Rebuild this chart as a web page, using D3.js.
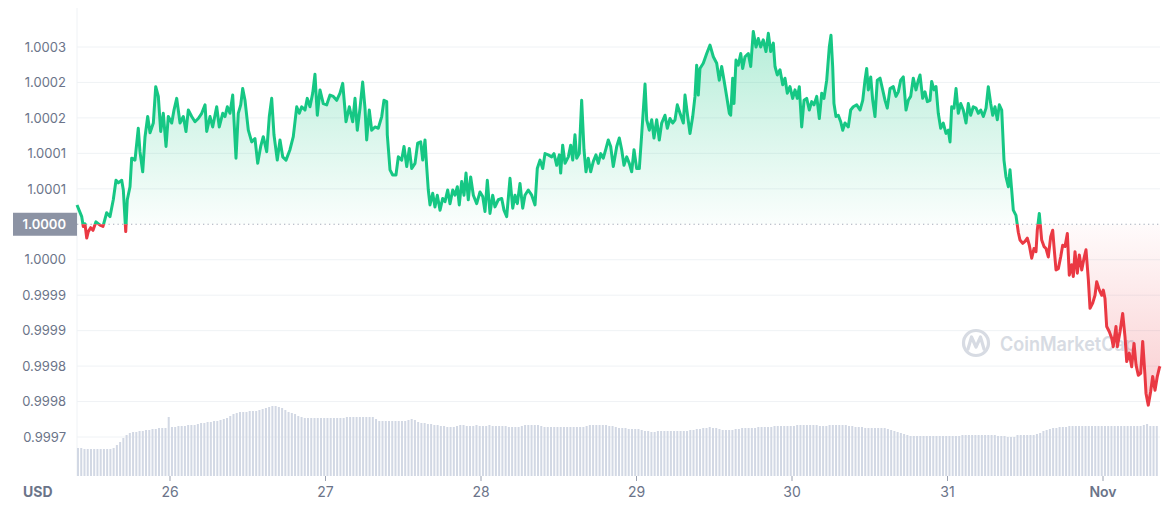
<!DOCTYPE html>
<html><head><meta charset="utf-8">
<script src="https://cdn.jsdelivr.net/npm/d3@7"></script>
<style>
body{margin:0;background:#fff;}
svg{display:block;font-family:Inter,"Noto Sans",sans-serif;}
</style>
</head><body>
<svg id="c" width="1174" height="507"></svg>
<script>
// ---------------- DATA ----------------
const startTime = Date.UTC(2022, 9, 25, 9, 43, 26); // first sample (UTC)
// hours since first sample
const priceHours = [
0.00,0.73,0.97,1.23,1.50,1.74,2.11,2.47,2.93,3.55,
4.01,4.58,5.09,5.60,6.02,6.37,6.90,7.15,7.52,7.76,
8.18,8.44,8.95,9.46,9.72,10.14,10.50,10.91,11.27,11.78,
12.15,12.55,12.92,13.32,13.74,14.09,14.62,14.97,15.39,15.90,
16.41,16.82,17.18,17.70,18.21,18.72,19.25,19.76,20.02,20.53,
20.94,21.56,21.96,22.49,22.84,23.20,23.61,24.03,24.54,24.89,
25.27,25.57,25.93,26.44,26.96,27.47,27.89,28.35,28.75,29.28,
29.68,30.05,30.40,30.91,31.33,31.75,32.26,32.87,33.38,33.91,
34.31,34.68,35.19,35.54,35.96,36.38,36.73,37.09,37.50,38.01,
38.54,39.05,39.56,40.08,40.59,41.01,41.52,42.03,42.55,42.91,
43.26,43.68,44.09,44.45,44.71,45.11,45.48,45.99,46.50,47.03,
47.38,47.80,47.89,48.31,48.72,49.23,49.59,50.11,50.47,50.89,
51.29,51.66,52.17,52.58,53.05,53.36,53.71,53.97,54.22,54.48,
54.90,55.25,55.61,56.03,56.44,56.80,57.21,57.57,57.99,58.34,
58.70,59.00,59.37,59.73,60.04,60.39,60.76,61.17,61.69,62.20,
62.62,62.97,63.33,63.74,64.16,64.51,65.02,65.55,65.90,66.32,
66.83,67.25,67.60,67.96,68.37,68.79,69.14,69.65,70.18,70.69,
71.04,71.46,71.88,72.23,72.74,73.26,73.62,74.04,74.44,74.65,
74.96,75.32,75.83,76.20,76.51,76.86,77.12,77.52,77.89,78.25,
78.56,78.91,79.28,79.69,80.10,80.46,80.83,81.23,81.65,82.00,
82.37,82.77,83.30,83.70,84.07,84.42,84.84,85.24,85.61,85.97,
86.38,86.79,87.15,87.67,87.93,88.33,88.70,89.05,89.47,89.87,
90.24,90.75,91.11,91.52,91.94,92.30,92.65,93.07,93.58,93.84,
94.19,94.61,95.03,95.38,95.64,95.89,96.15,96.66,97.19,97.70,
98.21,98.73,99.13,99.50,99.86,100.27,100.68,100.89,101.20,101.40,
101.71,102.06,102.44,102.74,103.10,103.61,103.98,104.38,104.80,105.15,
105.52,105.92,106.34,106.70,107.06,107.47,107.73,108.08,108.50,108.92,
109.27,109.63,110.04,110.46,110.82,111.17,111.48,111.85,112.21,112.62,
113.02,113.39,113.75,114.17,114.57,114.94,115.29,115.71,116.11,116.37,
116.63,116.83,117.14,117.50,117.87,118.18,118.53,119.04,119.41,119.81,
120.34,120.85,121.27,121.62,121.88,122.13,122.50,122.81,123.16,123.52,
123.94,124.35,124.71,125.06,125.48,125.99,126.40,126.76,127.13,127.53,
127.95,128.30,128.67,129.07,129.49,129.85,130.11,130.52,130.88,131.24,
131.65,131.91,132.27,132.58,132.93,133.30,133.70,134.12,134.48,134.74,
135.00,135.36,135.67,136.02,136.39,136.79,137.21,137.56,137.93,138.33,
138.75,139.11,139.48,139.88,140.30,140.65,141.02,141.33,141.68,142.04,
142.35,142.72,143.07,143.38,143.74,144.00,144.26,144.51,144.92,145.28,
145.54,145.96,146.31,146.67,146.98,147.35,147.70,148.01,148.21,148.52,
148.89,149.25,149.56,149.91,150.28,150.59,150.79,151.10,151.46,151.82,
152.13,152.49,152.85,153.15,153.52,153.77,154.03,154.39,154.70,155.07,
155.42,155.73,156.09,156.35,156.76,157.12,157.38,157.79,158.16,158.40,
158.66,158.92,159.33,159.70,159.94,160.36,160.56,160.98,161.39,161.75,
162.01,162.41,162.78,163.14,163.45,163.80,164.17,164.48,164.83,164.99,
165.34,165.71,166.02,166.38,166.73,167.04,167.15
];
// price in USD
const priceValues = [
1.000057,1.000039,1.000024,1.000028,1.000006,1.000016,1.000022,1.000018,1.000031,1.000026,
1.000024,1.000045,1.000039,1.000065,1.000095,1.000091,1.000095,1.000080,1.000016,1.000065,
1.000085,1.000129,1.000126,1.000175,1.000139,1.000108,1.000162,1.000193,1.000168,1.000183,
1.000239,1.000224,1.000170,1.000198,1.000147,1.000193,1.000183,1.000203,1.000221,1.000183,
1.000193,1.000170,1.000203,1.000193,1.000185,1.000190,1.000198,1.000211,1.000170,1.000193,
1.000177,1.000208,1.000177,1.000198,1.000193,1.000208,1.000198,1.000226,1.000129,1.000198,
1.000211,1.000236,1.000218,1.000172,1.000154,1.000159,1.000121,1.000147,1.000162,1.000139,
1.000193,1.000221,1.000165,1.000126,1.000157,1.000131,1.000126,1.000142,1.000162,1.000208,
1.000198,1.000208,1.000203,1.000221,1.000208,1.000229,1.000258,1.000195,1.000234,1.000213,
1.000211,1.000226,1.000224,1.000218,1.000229,1.000244,1.000185,1.000208,1.000185,1.000221,
1.000172,1.000206,1.000246,1.000206,1.000157,1.000203,1.000172,1.000177,1.000175,1.000193,
1.000218,1.000216,1.000165,1.000111,1.000103,1.000103,1.000131,1.000126,1.000147,1.000116,
1.000144,1.000113,1.000121,1.000152,1.000154,1.000126,1.000157,1.000116,1.000080,1.000057,
1.000075,1.000054,1.000072,1.000049,1.000067,1.000062,1.000080,1.000059,1.000080,1.000072,
1.000085,1.000057,1.000093,1.000072,1.000106,1.000065,1.000100,1.000072,1.000059,1.000077,
1.000070,1.000047,1.000095,1.000044,1.000072,1.000054,1.000065,1.000067,1.000049,1.000039,
1.000098,1.000052,1.000072,1.000059,1.000090,1.000052,1.000072,1.000080,1.000072,1.000057,
1.000113,1.000126,1.000113,1.000136,1.000134,1.000131,1.000136,1.000118,1.000134,1.000106,
1.000149,1.000121,1.000131,1.000149,1.000126,1.000165,1.000129,1.000136,1.000218,1.000142,
1.000108,1.000129,1.000108,1.000124,1.000134,1.000121,1.000136,1.000129,1.000144,1.000157,
1.000147,1.000116,1.000147,1.000160,1.000142,1.000118,1.000131,1.000121,1.000108,1.000142,
1.000113,1.000113,1.000165,1.000243,1.000188,1.000172,1.000188,1.000160,1.000188,1.000157,
1.000183,1.000195,1.000175,1.000190,1.000183,1.000188,1.000211,1.000198,1.000183,1.000226,
1.000198,1.000167,1.000193,1.000224,1.000272,1.000226,1.000267,1.000275,1.000290,1.000303,
1.000285,1.000275,1.000249,1.000270,1.000249,1.000224,1.000198,1.000195,1.000252,1.000213,
1.000280,1.000272,1.000290,1.000267,1.000285,1.000290,1.000270,1.000324,1.000300,1.000313,
1.000300,1.000311,1.000293,1.000321,1.000293,1.000306,1.000270,1.000257,1.000265,1.000242,
1.000252,1.000229,1.000239,1.000221,1.000234,1.000221,1.000239,1.000177,1.000218,1.000221,
1.000203,1.000216,1.000211,1.000224,1.000190,1.000229,1.000221,1.000249,1.000300,1.000318,
1.000270,1.000213,1.000193,1.000195,1.000185,1.000172,1.000183,1.000177,1.000203,1.000208,
1.000211,1.000203,1.000218,1.000249,1.000267,1.000234,1.000254,1.000218,1.000193,1.000249,
1.000252,1.000234,1.000218,1.000206,1.000236,1.000239,1.000224,1.000231,1.000249,1.000254,
1.000203,1.000218,1.000224,1.000252,1.000234,1.000249,1.000257,1.000221,1.000231,1.000216,
1.000218,1.000247,1.000234,1.000239,1.000198,1.000175,1.000183,1.000167,1.000172,1.000154,
1.000208,1.000206,1.000236,1.000198,1.000213,1.000203,1.000183,1.000213,1.000195,1.000208,
1.000206,1.000198,1.000203,1.000193,1.000206,1.000239,1.000213,1.000195,1.000208,1.000188,
1.000211,1.000203,1.000126,1.000100,1.000085,1.000111,1.000080,1.000049,1.000041,1.000015,
1.000003,0.999998,1.000001,1.000006,0.999995,0.999975,0.999990,0.999985,1.000018,1.000044,
1.000003,0.999993,0.999990,0.999977,1.000008,1.000018,0.999993,0.999957,0.999959,0.999977,
0.999995,0.999993,1.000013,0.999949,0.999965,0.999947,0.999985,0.999952,0.999980,0.999957,
0.999975,0.999988,0.999942,0.999898,0.999906,0.999918,0.999939,0.999926,0.999918,0.999926,
0.999913,0.999870,0.999862,0.999852,0.999839,0.999870,0.999839,0.999862,0.999890,0.999854,
0.999816,0.999829,0.999808,0.999844,0.999811,0.999795,0.999798,0.999847,0.999795,0.999767,
0.999749,0.999770,0.999793,0.999772,0.999793,0.999806,0.999809
];
// 30-minute volume bars (relative units)
const volumeIntervalMinutes = 30;
const volumeValues = [
28,28,27,27,27,27,27,27,27,27, 27,28,31,34,38,41,43,44,44,45,
45,46,46,47,47,48,48,48,59,49, 49,50,50,50,51,51,51,52,53,53,
54,54,55,55,56,57,58,60,62,63, 64,64,64,65,65,65,66,67,68,69,
70,70,69,68,66,64,63,62,60,59, 58,58,58,58,58,58,58,58,58,58,
58,58,58,59,59,59,59,59,59,59, 59,59,57,55,55,55,55,55,55,55,
55,55,56,57,56,54,53,53,52,52, 51,51,50,50,49,49,49,50,51,51,
50,50,50,51,50,50,50,51,50,50, 50,50,50,49,49,49,49,50,51,51,
51,51,51,50,49,49,49,49,49,49, 49,49,49,49,49,49,49,50,51,51,
51,51,51,51,50,50,49,48,48,48, 47,47,47,47,46,45,45,44,44,45,
45,45,45,45,45,45,45,45,45,46, 46,47,47,48,48,49,48,48,47,46,
46,46,46,47,47,48,48,48,48,48, 49,49,49,49,49,50,50,50,50,50,
50,50,51,51,51,51,51,51,51,50, 50,50,51,51,51,51,51,51,50,50,
49,49,49,48,48,48,48,48,48,48, 47,46,45,44,43,42,41,40,40,40,
40,40,40,40,40,40,40,40,40,40, 40,40,40,41,41,41,41,41,41,41,
41,41,41,41,40,40,40,39,39,39, 41,41,41,41,41,41,42,43,45,46,
47,48,48,49,49,49,50,50,50,50, 50,50,50,50,50,50,50,50,50,50,
50,50,50,50,50,50,50,50,50,51, 52,50,50,50
];
const baselinePrice = 1.0000273;
const baselineLabel = "1.0000";
const yTickValues = [1.0003, 1.0002455, 1.0001909, 1.0001364, 1.0000818,
                     0.9999727, 0.9999182, 0.9998636, 0.9998091, 0.9997545, 0.9997];
const yTickLabels = ["1.0003","1.0002","1.0002","1.0001","1.0001",
                     "1.0000","0.9999","0.9999","0.9998","0.9998","0.9997"];
const xTickDates = [Date.UTC(2022,9,26),Date.UTC(2022,9,27),Date.UTC(2022,9,28),Date.UTC(2022,9,29),
                    Date.UTC(2022,9,30),Date.UTC(2022,9,31),Date.UTC(2022,10,1)];
const xTickLabels = ["26","27","28","29","30","31","Nov"];
const currencyLabel = "USD";
const watermarkText = "CoinMarketCap";

// ---------------- CHART ----------------
const HOUR = 3600e3;
const GREEN = "#16c784", RED = "#ea3943";
const svg = d3.select("#c");
const L = 77, R = 1160, TOP = 8, VOL_BOTTOM = 476;

const data = priceHours.map((h, i) => ({ t: new Date(startTime + h * HOUR), p: priceValues[i] }));
const x = d3.scaleUtc()
  .domain([new Date(startTime), new Date(startTime + priceHours[priceHours.length - 1] * HOUR)])
  .range([L, R]);
const y = d3.scaleLinear().domain([0.9997, 1.0003]).range([437, 47]);
const v = d3.scaleLinear().domain([0, 100]).range([VOL_BOTTOM, VOL_BOTTOM - 100]);
const yb = y(baselinePrice);

const defs = svg.append("defs");
const gG = defs.append("linearGradient").attr("id","gG").attr("gradientUnits","userSpaceOnUse")
  .attr("x1",0).attr("x2",0).attr("y1",30).attr("y2",yb);
gG.append("stop").attr("offset",0).attr("stop-color",GREEN).attr("stop-opacity",0.32);
gG.append("stop").attr("offset",1).attr("stop-color",GREEN).attr("stop-opacity",0.02);
const gR = defs.append("linearGradient").attr("id","gR").attr("gradientUnits","userSpaceOnUse")
  .attr("x1",0).attr("x2",0).attr("y1",yb).attr("y2",410);
gR.append("stop").attr("offset",0).attr("stop-color",RED).attr("stop-opacity",0.02);
gR.append("stop").attr("offset",1).attr("stop-color",RED).attr("stop-opacity",0.26);
defs.append("clipPath").attr("id","cAbove").append("rect")
  .attr("x",L-5).attr("y",0).attr("width",R-L+10).attr("height",yb);
defs.append("clipPath").attr("id","cBelow").append("rect")
  .attr("x",L-5).attr("y",yb).attr("width",R-L+10).attr("height",507-yb);

// left vertical line
svg.append("line").attr("x1",L).attr("x2",L).attr("y1",TOP).attr("y2",VOL_BOTTOM)
  .attr("stroke","#eff2f5");

// gridlines
svg.append("g").selectAll("line").data(yTickValues).join("line")
  .attr("x1",L).attr("x2",R).attr("y1",d=>y(d)).attr("y2",d=>y(d))
  .attr("stroke","#eff2f5").attr("stroke-width",1);

// volume bars
const volStep = volumeIntervalMinutes * 60e3;
svg.append("g").selectAll("rect").data(volumeValues).join("rect")
  .attr("x", (d,i) => x(new Date(startTime + i*volStep)))
  .attr("width", (d,i) => (x(new Date(startTime + (i+1)*volStep)) - x(new Date(startTime + i*volStep))) * 0.62)
  .attr("y", d => v(d))
  .attr("height", d => VOL_BOTTOM - v(d))
  .attr("fill", "#d2d8e4");

// watermark
const wm = svg.append("g").attr("opacity",0.9);
wm.append("circle").attr("cx",976).attr("cy",343).attr("r",12.5)
  .attr("fill","none").attr("stroke","#d3d8e0").attr("stroke-width",3.2);
wm.append("path").attr("d","M968,349 L971.5,337 L976,347 L980.5,337 L984,349")
  .attr("fill","none").attr("stroke","#d3d8e0").attr("stroke-width",3.2)
  .attr("stroke-linejoin","round").attr("stroke-linecap","round");
wm.append("text").attr("x",1000).attr("y",351).text(watermarkText)
  .attr("font-size",20).attr("font-weight",600).attr("fill","#d3d8e0")
  .attr("textLength",136).attr("lengthAdjust","spacingAndGlyphs");

// areas
const area = d3.area().x(d=>x(d.t)).y0(yb).y1(d=>y(d.p));
svg.append("path").datum(data).attr("d",area).attr("fill","url(#gG)").attr("clip-path","url(#cAbove)");
svg.append("path").datum(data).attr("d",area).attr("fill","url(#gR)").attr("clip-path","url(#cBelow)");

// baseline (dotted)
svg.append("line").attr("x1",L).attr("x2",R).attr("y1",yb).attr("y2",yb)
  .attr("stroke","#a6adbb").attr("stroke-width",1.2).attr("stroke-dasharray","1.3,3.2");

// lines
const line = d3.line().x(d=>x(d.t)).y(d=>y(d.p));
svg.append("path").datum(data).attr("d",line).attr("fill","none").attr("stroke",GREEN)
  .attr("stroke-width",3).attr("stroke-linejoin","round").attr("clip-path","url(#cAbove)");
svg.append("path").datum(data).attr("d",line).attr("fill","none").attr("stroke",RED)
  .attr("stroke-width",3).attr("stroke-linejoin","round").attr("clip-path","url(#cBelow)");

// y axis labels
const yAxis = d3.axisLeft(y).tickValues(yTickValues).tickFormat((d,i)=>yTickLabels[i]).tickSize(0).tickPadding(0);
const ya = svg.append("g").attr("transform","translate(66,0)").call(yAxis);
ya.select(".domain").remove();
ya.selectAll("text").attr("font-family","Inter,'Noto Sans',sans-serif").attr("font-size",13)
  .attr("fill","#6b7489");

// baseline label
svg.append("rect").attr("x",13).attr("y",yb-11.5).attr("width",64).attr("height",23).attr("fill","#8c93a4");
svg.append("text").attr("x",66).attr("y",yb).attr("dy","0.34em").attr("text-anchor","end")
  .attr("font-size",13).attr("font-weight",600).attr("fill","#fff").text(baselineLabel);

// x axis
const xAxis = d3.axisBottom(x).tickValues(xTickDates.map(d=>new Date(d)))
  .tickFormat((d,i)=>xTickLabels[i]).tickSize(5).tickPadding(6);
const xa = svg.append("g").attr("transform",`translate(0,${VOL_BOTTOM})`).call(xAxis);
xa.select(".domain").remove();
xa.selectAll(".tick line").attr("stroke","#9aa1b0");
xa.selectAll("text").attr("font-family","Inter,'Noto Sans',sans-serif").attr("font-size",14)
  .attr("fill","#6b7489")
  .attr("font-weight",(d,i)=> i===xTickLabels.length-1 ? 600 : 400);

svg.append("text").attr("x",23).attr("y",497).text(currencyLabel)
  .attr("font-size",14).attr("font-weight",700).attr("fill","#6b7489");
</script>
</body></html>
